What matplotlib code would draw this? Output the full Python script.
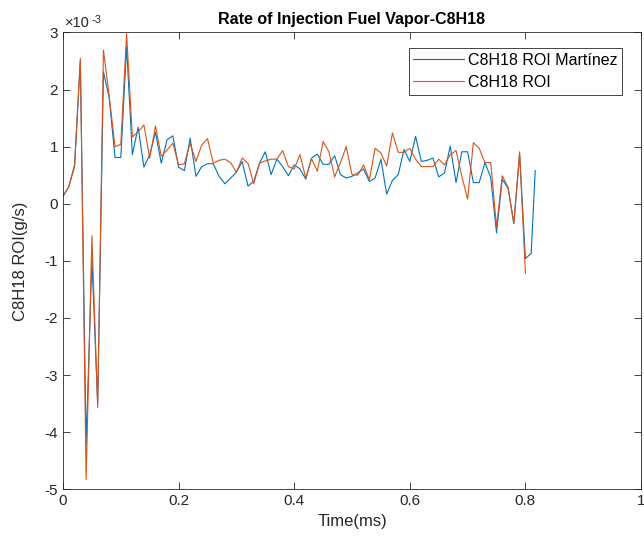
import numpy as np
import matplotlib.pyplot as plt
from matplotlib.ticker import FuncFormatter

plt.rcParams['font.family'] = ['Liberation Sans', 'DejaVu Sans']
plt.rcParams['axes.unicode_minus'] = False

# veri (x10^-3 g/s), zaman adimi 0.01 ms
roi_orange = [0.13, 0.30, 0.68, 2.55, -4.83, -0.56, -3.57, 2.69, 1.88, 1.00,
              1.04, 2.98, 1.17, 1.26, 1.38, 0.80, 1.36, 0.83, 0.94, 1.06,
              0.68, 0.70, 1.06, 0.74, 1.03, 1.14, 0.71, 0.76, 0.78, 0.72,
              0.55, 0.80, 0.71, 0.35, 0.71, 0.75, 0.78, 0.78, 0.93, 0.65,
              0.61, 0.86, 0.45, 0.79, 0.57, 1.09, 0.91, 0.47, 0.72, 1.00,
              0.51, 0.50, 0.68, 0.42, 0.97, 0.89, 0.66, 1.24, 0.90, 0.90,
              0.97, 0.78, 0.65, 0.65, 0.65, 0.78, 0.68, 0.86, 0.93, 0.48,
              0.08, 1.07, 0.97, 0.72, 0.72, -0.40, 0.49, 0.29, -0.35, 0.91,
              -1.22]
roi_martinez = [0.13, 0.30, 0.65, 2.50, -4.21, -0.97, -3.50, 2.31, 1.85, 0.81,
                0.81, 2.75, 0.86, 1.34, 0.64, 0.86, 1.25, 0.71, 1.12, 1.19,
                0.64, 0.58, 1.15, 0.48, 0.65, 0.70, 0.70, 0.48, 0.35, 0.45,
                0.55, 0.74, 0.31, 0.39, 0.71, 0.91, 0.51, 0.78, 0.65, 0.49,
                0.68, 0.61, 0.43, 0.80, 0.87, 0.69, 0.69, 0.84, 0.51, 0.45,
                0.48, 0.54, 0.61, 0.39, 0.45, 0.78, 0.17, 0.41, 0.51, 0.95,
                0.74, 1.18, 0.74, 0.76, 0.80, 0.47, 0.54, 1.01, 0.37, 0.91,
                0.91, 0.37, 0.37, 0.72, 0.46, -0.51, 0.43, 0.27, -0.34, 0.86,
                -0.96, -0.87, 0.58]

t_orange = np.arange(len(roi_orange)) * 0.01
t_martinez = np.append(np.arange(len(roi_martinez) - 1) * 0.01, 0.817)

y_orange = np.array(roi_orange) * 1e-3
y_martinez = np.array(roi_martinez) * 1e-3

gray = '#262626'

fig = plt.figure(figsize=(6.44, 5.53), dpi=100)
ax = fig.add_axes([63 / 644, 63.7 / 553, 578 / 644, 456.9 / 553])

ax.plot(t_martinez, y_martinez, color='#0072BD', lw=0.8, label='C8H18 ROI Martínez')
ax.plot(t_orange, y_orange, color='#D95319', lw=0.8, label='C8H18 ROI')

ax.set_xlim(0, 1)
ax.set_ylim(-5e-3, 3e-3)
ax.set_xticks([0, 0.2, 0.4, 0.6, 0.8, 1])
ax.set_xticklabels(['0', '0.2', '0.4', '0.6', '0.8', '1'])
ax.set_yticks(np.arange(-5, 4) * 1e-3)
ax.yaxis.set_major_formatter(FuncFormatter(lambda v, p: '%g' % round(v * 1e3, 6)))

# MATLAB tarzi us etiketi
ax.text(0.004, 1.006, '×10', transform=ax.transAxes, fontsize=10.5, color=gray,
        ha='left', va='bottom')
ax.text(0.05, 1.017, '-3', transform=ax.transAxes, fontsize=8, color=gray,
        ha='left', va='bottom')

ax.tick_params(direction='in', top=True, right=True, length=5, width=0.6,
               colors=gray, labelsize=11)
for s in ax.spines.values():
    s.set_color(gray)
    s.set_linewidth(0.6)

ax.set_title('Rate of Injection Fuel Vapor-C8H18', fontsize=11.5, fontweight='bold',
             color='black', pad=6)
ax.set_xlabel('Time(ms)', fontsize=12, color=gray, labelpad=4)
ax.set_ylabel('C8H18 ROI(g/s)', fontsize=12, color=gray, labelpad=12)

leg = ax.legend(loc='upper right', bbox_to_anchor=(0.967, 0.966), fontsize=11.5,
                fancybox=False, framealpha=1, edgecolor=gray, handlelength=3.2,
                borderpad=0.3, labelspacing=0.45, handletextpad=0.2, borderaxespad=0)
leg.get_frame().set_linewidth(0.6)

fig.savefig('out.png', dpi=100)
